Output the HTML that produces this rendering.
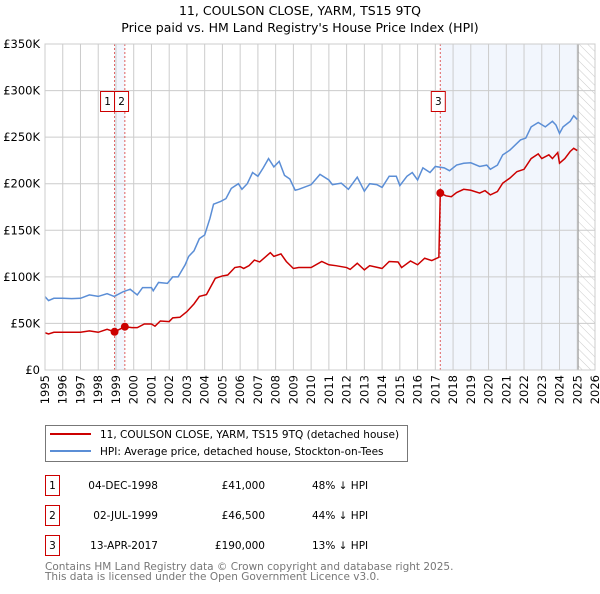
<!DOCTYPE html>
<html><head><meta charset="utf-8"><style>
body{margin:0;background:#fff;width:600px;height:590px;overflow:hidden;font-family:"DejaVu Sans","Liberation Sans",sans-serif}
svg text{font-family:"DejaVu Sans","Liberation Sans",sans-serif}
</style></head><body>
<svg id="chart" width="600" height="590" viewBox="0 0 600 590" xmlns="http://www.w3.org/2000/svg">
<defs><pattern id="hatch" width="6" height="6" patternUnits="userSpaceOnUse" patternTransform="rotate(-45)"><line x1="0" y1="0" x2="0" y2="6" stroke="#ccc" stroke-width="1"/></pattern></defs>
<text x="300" y="15" font-size="12.5" text-anchor="middle">11, COULSON CLOSE, YARM, TS15 9TQ</text>
<text x="300" y="32" font-size="12.5" text-anchor="middle">Price paid vs. HM Land Registry's House Price Index (HPI)</text>
<g id="plot"></g>
<g>
<rect x="45.5" y="425.5" width="362" height="36" fill="#fff" stroke="#777"/>
<line x1="50" y1="434" x2="91" y2="434" stroke="#cc0000" stroke-width="2"/>
<text x="100" y="438" font-size="10.5">11, COULSON CLOSE, YARM, TS15 9TQ (detached house)</text>
<line x1="50" y1="451" x2="91" y2="451" stroke="#5b8ed6" stroke-width="2"/>
<text x="100" y="455" font-size="10.5">HPI: Average price, detached house, Stockton-on-Tees</text>
</g>
<g font-size="10.5">
<rect x="45.5" y="475.5" width="14" height="20" fill="#fff" stroke="#cc0000"/><text x="52.5" y="489" text-anchor="middle">1</text>
<text x="158" y="489" text-anchor="end">04-DEC-1998</text><text x="265" y="489" text-anchor="end">£41,000</text><text x="312" y="489">48% ↓ HPI</text>
<rect x="45.5" y="505.5" width="14" height="20" fill="#fff" stroke="#cc0000"/><text x="52.5" y="519" text-anchor="middle">2</text>
<text x="158" y="519" text-anchor="end">02-JUL-1999</text><text x="265" y="519" text-anchor="end">£46,500</text><text x="312" y="519">44% ↓ HPI</text>
<rect x="45.5" y="535.5" width="14" height="20" fill="#fff" stroke="#cc0000"/><text x="52.5" y="549" text-anchor="middle">3</text>
<text x="158" y="549" text-anchor="end">13-APR-2017</text><text x="265" y="549" text-anchor="end">£190,000</text><text x="312" y="549">13% ↓ HPI</text>
</g>
<text x="45" y="570" font-size="10.5" fill="#777">Contains HM Land Registry data © Crown copyright and database right 2025.</text>
<text x="45" y="580" font-size="10.5" fill="#777">This data is licensed under the Open Government Licence v3.0.</text>
</svg>
<script>
const yTicks=[0,50,100,150,200,250,300,350];
const yTickLabels=["£0","£50K","£100K","£150K","£200K","£250K","£300K","£350K"];
const xYears=[1995,1996,1997,1998,1999,2000,2001,2002,2003,2004,2005,2006,2007,2008,2009,2010,2011,2012,2013,2014,2015,2016,2017,2018,2019,2020,2021,2022,2023,2024,2025,2026];
const hpiYears=[1995.0,1995.2,1995.5,1996,1996.5,1997,1997.5,1998,1998.5,1998.9,1999.4,1999.8,2000.2,2000.5,2001,2001.1,2001.4,2001.9,2002.2,2002.5,2002.9,2003.1,2003.4,2003.7,2004.0,2004.3,2004.5,2004.9,2005.2,2005.5,2005.9,2006.1,2006.4,2006.7,2007.0,2007.3,2007.6,2007.9,2008.2,2008.5,2008.8,2009.1,2009.3,2010,2010.5,2011,2011.2,2011.7,2012.1,2012.6,2013.0,2013.3,2013.7,2014.0,2014.4,2014.8,2015.0,2015.4,2015.7,2016.0,2016.3,2016.7,2017.0,2017.5,2017.8,2018.2,2018.6,2019.0,2019.5,2019.9,2020.1,2020.5,2020.8,2021.2,2021.8,2022.1,2022.4,2022.8,2023.2,2023.6,2023.8,2024.0,2024.2,2024.6,2024.8,2025.0];
const hpiValues=[78.8,74.5,77,77,76.6,77,80.6,79,82,79,84,86.7,80.6,88.5,88.5,85,94,93,100,100,113,122,128,141,145,163,178,181,184,195,200,194,200,212,208,217,227,218,224,209,205,193,194,199,210,204,199,200.6,194,207,192,200,199,196,208,208,198,208,212,204,217,212,218.5,217,214,220,222,222.5,218.5,220,215.5,220,231,236,247,249,261,265.7,261,267,263,254,261,267,273,269];
const ppYears=[1995.0,1995.2,1995.5,1996,1997,1997.5,1998,1998.5,1998.92,1999.5,1999.9,2000.2,2000.6,2001,2001.2,2001.5,2002,2002.2,2002.6,2003,2003.4,2003.7,2004.1,2004.6,2005.0,2005.3,2005.7,2006.0,2006.2,2006.5,2006.8,2007.1,2007.4,2007.7,2007.9,2008.3,2008.6,2009.0,2009.3,2010,2010.6,2011,2011.4,2012,2012.2,2012.6,2013,2013.3,2014,2014.4,2014.9,2015.1,2015.6,2016.0,2016.4,2016.8,2017.2,2017.28,2017.6,2017.9,2018.2,2018.6,2019.0,2019.5,2019.8,2020.1,2020.5,2020.8,2021.2,2021.6,2022.0,2022.4,2022.8,2023.0,2023.4,2023.6,2023.9,2024.0,2024.3,2024.6,2024.8,2025.0];
const ppValues=[40,38.7,40.5,40.5,40.5,42,40.5,43.7,41,46.5,45.5,45.5,49.4,49.4,47,52.6,52,56,56.6,62.7,71,79,81,98.5,101,102,110,111,109,112,118,116,121,126,122,124.6,116.5,109,110,110,116.5,113,112,110,108,114.6,107.5,112,109,116.5,116,110,117,113,120,117.5,121,190,187,186,190.5,194,193,190,192.6,188,191.6,200.6,206,213,215.5,227,232,227,231,227,233.5,222,227,234.6,238,235.6];
const saleYears=[1998.92,1999.5,2017.28];
const saleValues=[41,46.5,190];
const saleLabels=["1","2","3"];
const dataEnd=2025.05;

const X0=45,X1=595,Y0=370,Y1=44;
const xs=y=>X0+(y-1995)/(2026-1995)*(X1-X0);
const ys=v=>Y0-v/350*(Y0-Y1);
const NS="http://www.w3.org/2000/svg";
const plot=document.getElementById('plot');
function mk(tag,attrs,parent){const e=document.createElementNS(NS,tag);for(const k in attrs)e.setAttribute(k,attrs[k]);(parent||plot).appendChild(e);return e;}

// shaded region after first sale pair and after sale 3
const s1=mk('rect',{x:xs(saleYears[0]),y:Y1,width:xs(saleYears[1])-xs(saleYears[0]),height:Y0-Y1,fill:'#edf2fc',opacity:0.7});


const s3=mk('rect',{x:xs(saleYears[2]),y:Y1,width:xs(dataEnd)-xs(saleYears[2]),height:Y0-Y1,fill:'#edf2fc',opacity:0.7});


const hz=mk('rect',{x:xs(dataEnd),y:Y1,width:X1-xs(dataEnd),height:Y0-Y1,fill:'url(#hatch)'});



yTicks.forEach((t,i)=>{
  const l=mk('line',{x1:X0,x2:X1,y1:ys(t),y2:ys(t),stroke:'#ccc','stroke-width':1});
  
  
  const tx=mk('text',{x:40,y:ys(t)+4,'font-size':11.5,'text-anchor':'end'});
  
  
  tx.textContent=yTickLabels[i];
});
xYears.forEach(yr=>{
  const l=mk('line',{x1:xs(yr),x2:xs(yr),y1:Y1,y2:Y0,stroke:'#ccc','stroke-width':1});
  
  
  const tx=mk('text',{x:0,y:0,'font-size':11.5,'text-anchor':'end',transform:`translate(${xs(yr)+4},${Y0+5}) rotate(-90)`});
  
  
  tx.textContent=yr;
});
const el=mk('line',{x1:xs(dataEnd),x2:xs(dataEnd),y1:Y1,y2:Y0,stroke:'#999','stroke-width':1});



saleYears.forEach((yr,i)=>{
  const l=mk('line',{x1:xs(yr),x2:xs(yr),y1:Y1,y2:Y0,stroke:'#e06060','stroke-width':1,'stroke-dasharray':'2,2'});
  
  
});

const hp=mk('polyline',{points:hpiYears.map((y,i)=>xs(y)+','+ys(hpiValues[i])).join(' '),fill:'none',stroke:'#5b8ed6','stroke-width':1.5});


const pp=mk('polyline',{points:ppYears.map((y,i)=>xs(y)+','+ys(ppValues[i])).join(' '),fill:'none',stroke:'#cc0000','stroke-width':1.5});



saleYears.forEach((yr,i)=>{
  const c=mk('circle',{cx:xs(yr),cy:ys(saleValues[i]),r:4,fill:'#cc0000'});
  
  
});
// labels boxes
const boxX=[xs(saleYears[0])-7,xs(saleYears[0])+7,xs(saleYears[2])-2];
saleLabels.forEach((lab,i)=>{
  const g=mk('g',{});
  
  
  mk('rect',{x:boxX[i]-7,y:91.5,width:14,height:20,fill:'#fff',stroke:'#cc0000'},g);
  const t=mk('text',{x:boxX[i],y:105,'font-size':10.5,'text-anchor':'middle'},g);
  t.textContent=lab;
});
const fr=mk('rect',{x:X0,y:Y1,width:X1-X0,height:Y0-Y1,fill:'none',stroke:'#ccc'});


</script>
</body></html>
